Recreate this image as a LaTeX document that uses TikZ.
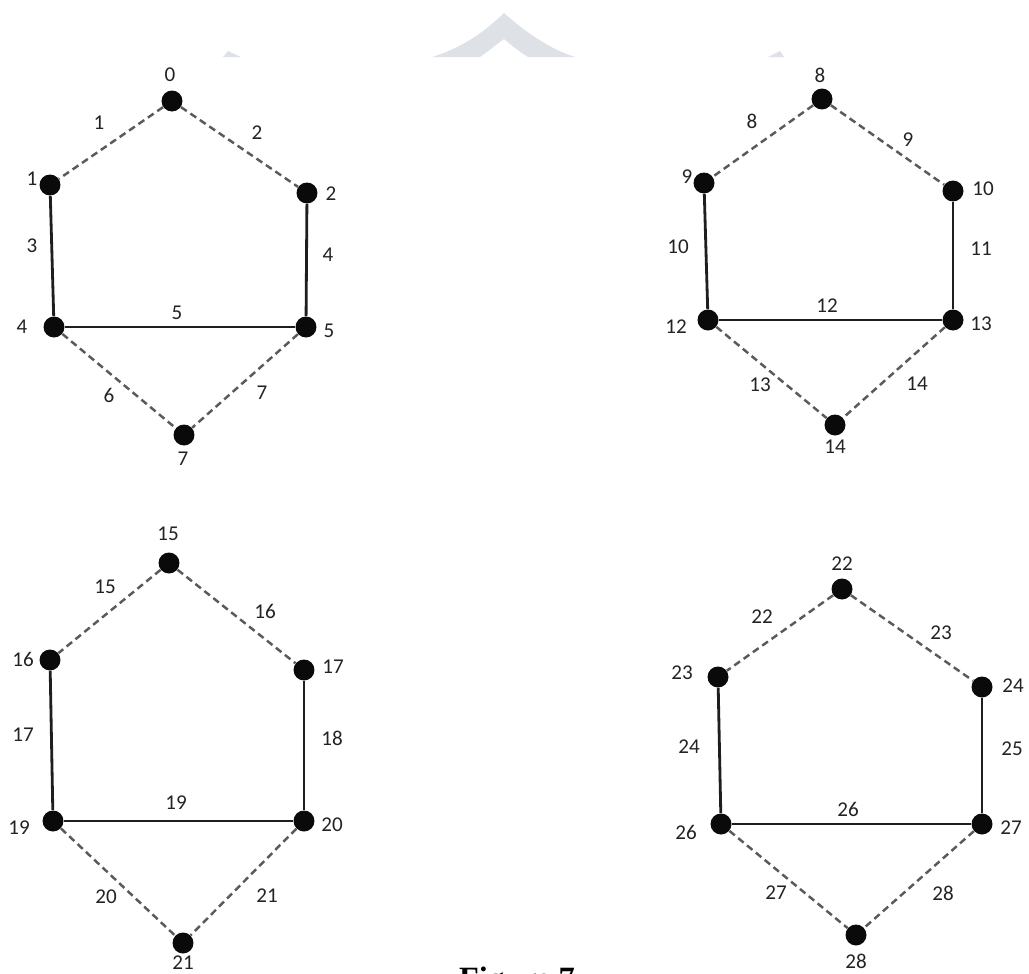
\documentclass[tikz,border=0pt]{standalone}
\usepackage{fontspec}
\newfontfamily\lblfont{Carlito}
\newfontfamily\capfont{Liberation Serif}
\definecolor{mydot}{RGB}{10,10,10}
\definecolor{mysolid}{RGB}{30,30,30}
\definecolor{mydash}{RGB}{90,90,90}
\definecolor{mytext}{RGB}{35,35,35}
\definecolor{mymark}{RGB}{222,226,230}
\tikzset{
  dot/.style={circle, fill=mydot, inner sep=0pt, minimum size=0.42cm},
  lbl/.style={font=\lblfont\fontsize{12}{14}\selectfont, text=mytext, inner sep=1pt},
  solidedge/.style={line width=1.6pt, color=mysolid},
  dashedge/.style={line width=1.4pt, color=mydash, dash pattern=on 4pt off 2.5pt}
}

\begin{document}
\begin{tikzpicture}[x=0.02cm, y=-0.02cm]
  \useasboundingbox (0,0) rectangle (1029,974);
  \clip (0,0) rectangle (1029,974);

  % faint mark at the top
  \fill[mymark] (504,13) .. controls (478,38) and (455,50) .. (432,57) -- (480,57) .. controls (490,50) and (497,44) .. (504,39)
    .. controls (512,46) and (520,52) .. (528,57) -- (575,57) .. controls (553,50) and (530,36) .. cycle;
  \fill[mymark] (223,57) -- (228,51) -- (241,57) -- cycle;
  \fill[mymark] (768,57) -- (780,51) -- (784,57) -- cycle;

  % Graph (top left)
  \node[dot] (a0) at (172,101) {};
  \node[dot] (a1) at (50,185) {};
  \node[dot] (a2) at (307,193) {};
  \node[dot] (a4) at (54,327) {};
  \node[dot] (a5) at (306,327) {};
  \node[dot] (a7) at (184,435) {};
  \node[lbl] (la0) at (170,75) {0};
  \node[lbl] (la1) at (32,179) {1};
  \node[lbl] (la2) at (331,194) {2};
  \node[lbl] (la4) at (22,327) {4};
  \node[lbl] (la5) at (329,331) {5};
  \node[lbl] (la7) at (183,459) {7};
  \draw[dashedge] (a0) -- (a1);
  \draw[dashedge] (a0) -- (a2);
  \draw[solidedge] (a1) -- (a4);
  \draw[solidedge] (a2) -- (a5);
  \draw[solidedge] (a4) -- (a5);
  \draw[dashedge] (a4) -- (a7);
  \draw[dashedge] (a5) -- (a7);
  \node[lbl] (ea1) at (99,123) {1};
  \node[lbl] (ea2) at (257,133) {2};
  \node[lbl] (ea3) at (32,246) {3};
  \node[lbl] (ea4) at (328,255) {4};
  \node[lbl] (ea5) at (177,313) {5};
  \node[lbl] (ea6) at (109,395) {6};
  \node[lbl] (ea7) at (262,393) {7};

  % Graph (top right)
  \node[dot] (b8) at (822,99) {};
  \node[dot] (b9) at (704,183) {};
  \node[dot] (b10) at (953,191) {};
  \node[dot] (b12) at (708,320) {};
  \node[dot] (b13) at (953,320) {};
  \node[dot] (b14) at (835,425) {};
  \node[lbl] (lb8) at (820,75) {8};
  \node[lbl] (lb9) at (687,177) {9};
  \node[lbl] (lb10) at (983,189) {10};
  \node[lbl] (lb12) at (676,327) {12};
  \node[lbl] (lb13) at (981,324) {13};
  \node[lbl] (lb14) at (835,447) {14};
  \draw[dashedge] (b8) -- (b9);
  \draw[dashedge] (b8) -- (b10);
  \draw[solidedge] (b9) -- (b12);
  \draw[solidedge] (b10) -- (b13);
  \draw[solidedge] (b12) -- (b13);
  \draw[dashedge] (b12) -- (b14);
  \draw[dashedge] (b13) -- (b14);
  \node[lbl] (eb8) at (752,121) {8};
  \node[lbl] (eb9) at (908,140) {9};
  \node[lbl] (eb10) at (678,247) {10};
  \node[lbl] (eb11) at (981,249) {11};
  \node[lbl] (eb12) at (827,306) {12};
  \node[lbl] (eb13) at (760,385) {13};
  \node[lbl] (eb14) at (917,384) {14};

  % Graph (bottom left)
  \node[dot] (c15) at (169,563) {};
  \node[dot] (c16) at (50,660) {};
  \node[dot] (c17) at (304,670) {};
  \node[dot] (c19) at (53,821) {};
  \node[dot] (c20) at (304,821) {};
  \node[dot] (c21) at (183,943) {};
  \node[lbl] (lc15) at (168,534) {15};
  \node[lbl] (lc16) at (23,659) {16};
  \node[lbl] (lc17) at (333,667) {17};
  \node[lbl] (lc19) at (19,828) {19};
  \node[lbl] (lc20) at (332,825) {20};
  \node[lbl] (lc21) at (183,963) {21};
  \draw[dashedge] (c15) -- (c16);
  \draw[dashedge] (c15) -- (c17);
  \draw[solidedge] (c16) -- (c19);
  \draw[solidedge] (c17) -- (c20);
  \draw[solidedge] (c19) -- (c20);
  \draw[dashedge] (c19) -- (c21);
  \draw[dashedge] (c20) -- (c21);
  \node[lbl] (ec15) at (105,587) {15};
  \node[lbl] (ec16) at (265,611) {16};
  \node[lbl] (ec17) at (23,735) {17};
  \node[lbl] (ec18) at (332,738) {18};
  \node[lbl] (ec19) at (176,803) {19};
  \node[lbl] (ec20) at (106,897) {20};
  \node[lbl] (ec21) at (267,896) {21};

  % Graph (bottom right)
  \node[dot] (d22) at (842,589) {};
  \node[dot] (d23) at (718,677) {};
  \node[dot] (d24) at (982,687) {};
  \node[dot] (d26) at (721,824) {};
  \node[dot] (d27) at (982,824) {};
  \node[dot] (d28) at (856,935) {};
  \node[lbl] (ld22) at (842,564) {22};
  \node[lbl] (ld23) at (682,673) {23};
  \node[lbl] (ld24) at (1013,686) {24};
  \node[lbl] (ld26) at (686,832) {26};
  \node[lbl] (ld27) at (1011,828) {27};
  \node[lbl] (ld28) at (856,961) {28};
  \draw[dashedge] (d22) -- (d23);
  \draw[dashedge] (d22) -- (d24);
  \draw[solidedge] (d23) -- (d26);
  \draw[solidedge] (d24) -- (d27);
  \draw[solidedge] (d26) -- (d27);
  \draw[dashedge] (d26) -- (d28);
  \draw[dashedge] (d27) -- (d28);
  \node[lbl] (ed22) at (762,617) {22};
  \node[lbl] (ed23) at (941,633) {23};
  \node[lbl] (ed24) at (689,747) {24};
  \node[lbl] (ed25) at (1012,749) {25};
  \node[lbl] (ed26) at (848,809) {26};
  \node[lbl] (ed27) at (776,893) {27};
  \node[lbl] (ed28) at (943,893) {28};

  % caption, cut by the page edge
  \node[font=\capfont\bfseries\fontsize{18.5}{20}\selectfont, anchor=base, inner sep=0pt] (cap) at (517,989) {Figure 7};
\end{tikzpicture}
\end{document}
